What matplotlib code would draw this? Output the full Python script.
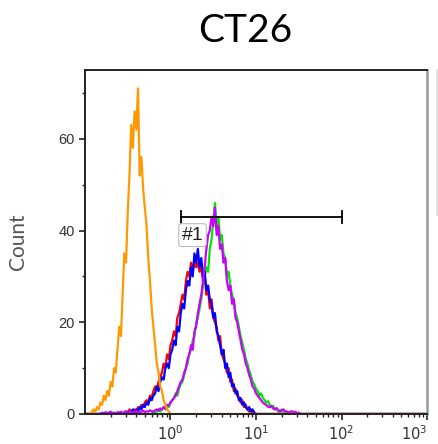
import numpy as np
import matplotlib
matplotlib.use("Agg")
import matplotlib.pyplot as plt
from matplotlib.lines import Line2D
from matplotlib import ticker

plt.rcParams["mathtext.fontset"] = "custom"
plt.rcParams["mathtext.rm"] = "Liberation Sans"
plt.rcParams["mathtext.it"] = "Liberation Sans"
plt.rcParams["mathtext.bf"] = "Liberation Sans"

# ---- data ----
# common channel grid: log10 positions from -1 to 3, step 0.02
log_step = 0.02
log_start = -1.0
n_bins = 201

# each series: (first log10 position, counts at consecutive grid points)
orange_start = -0.92
orange_counts = [0.5, 1, 0.5, 1.5, 1, 2.5, 2, 4, 3, 5, 4, 7, 6, 10, 9, 14, 19,
                 17, 26, 35, 33, 44, 52, 63, 58, 66, 62, 71, 52, 56, 49, 45, 41,
                 34, 29, 23, 19, 15, 11, 9, 6, 5, 3, 2, 1, 0.5, 0]

red_start = -0.52
red_counts = [0.5, 0, 1, 0.5, 0.5, 1, 0.5, 1.5, 1, 2, 1.5, 2.5, 3, 2.5, 4, 3.5,
              5, 6, 5.5, 7, 8, 9, 11, 10, 13, 12, 15, 16, 18, 17, 21, 22, 24,
              26, 25, 29, 31, 30, 33, 31, 34, 32, 33, 31, 32, 29, 30, 26, 27,
              23, 25, 21, 20, 19, 16, 17, 13, 12, 11, 9, 10, 7, 7.5, 5, 5.5, 4,
              3.5, 2.5, 3, 1.5, 2, 1, 0.5, 1, 0.3, 0]

blue_start = -0.52
blue_counts = [0, 0.5, 0, 0.5, 1, 0, 1, 0.5, 1.5, 1, 2, 1.5, 2.5, 2, 3.5, 3, 4,
               4.5, 6, 5, 7, 8, 7.5, 10, 11, 10, 13, 14, 16, 15, 19, 18, 22,
               24, 23, 27, 29, 28, 32, 30, 35, 33, 36, 32, 34, 30, 31, 27, 28,
               25, 24, 21, 22, 18, 17, 15, 13, 14, 10, 11, 8, 9, 6, 6.5, 4.5,
               5, 3, 3.5, 2, 2.5, 1.5, 1, 1.5, 0.5, 1, 0.3, 0]

green_start = -0.20
green_counts = [0.5, 0, 0.5, 1, 0.5, 1, 1.5, 1, 2, 1.5, 2.5, 3, 3.5, 4.5, 4,
                5.5, 6.5, 7, 8.5, 10, 11, 13, 14, 16, 17, 20, 21, 23, 25, 28,
                30, 32, 31, 36, 38, 42, 46, 40, 43, 38, 39, 35, 34, 30, 31, 28,
                26, 25, 22, 21, 19, 17, 15.5, 14, 12, 11, 9.5, 8.5, 7, 6.5,
                5.5, 5, 4, 4.5, 3.5, 3, 2.5, 2.8, 2, 1.5, 1.8, 1, 1.2, 0.5,
                0.8, 0.5, 0.8, 0.3, 0.5, 0.2, 0]

magenta_start = -0.80
magenta_counts = [0.3, 0.1, 0.4, 0.2, 0.3, 0.5, 0.2, 0.3, 0.1, 0.4, 0.3, 0.5,
                  0.2, 0.4, 0.6, 0.3, 0.5, 0.4, 0.2, 0.5, 0.6, 0.4, 0.3, 0.5,
                  0.7, 0.4, 0.6, 0.5, 0.8, 0.6,
                  0.5, 0.8, 1, 0.7, 1.2, 1, 1.5, 1.2, 2, 1.8, 2.5, 3, 3.5, 4,
                  5, 6, 7, 7.5, 9, 10, 12, 13, 15, 14, 18, 19, 22, 24, 26, 29,
                  32, 36, 39, 40, 43, 41, 45, 39, 41, 36, 37, 33, 34, 29, 27,
                  28, 24, 25, 21, 20, 18, 16, 14, 13, 11, 10, 8.5, 7.5, 6, 5.5,
                  4.5, 4, 3.5, 3, 2.5, 2.2, 2, 1.6, 1.5, 1.8, 1.2, 1, 1.3, 0.8,
                  0.5, 0.9, 1, 0.6, 0.5, 0.3, 0.5, 0.6, 0.3, 0.5, 0.2, 0.3, 0]

gate_lo, gate_hi, gate_y = 1.32, 102, 43
gate_label = "#1"
gate_label_x, gate_label_y = 1.81, 39.0
title = "CT26"
ylabel = "Count"
yticks_major = [0, 20, 40, 60]
yticks_minor = [10, 30, 50, 70]
xticks_major = [1, 10, 100, 1000]
xtick_labels = [r"$\mathregular{10^0}$", r"$\mathregular{10^1}$",
                r"$\mathregular{10^2}$", r"$\mathregular{10^3}$"]

# ---- build full arrays ----
log_grid = log_start + log_step * np.arange(n_bins)
channels = 10 ** log_grid

def full(start, counts):
    arr = np.zeros(n_bins)
    i0 = int(round((start - log_start) / log_step))
    arr[i0:i0 + len(counts)] = counts
    return arr

# ---- plot ----
fig = plt.figure(figsize=(4.39, 4.44), dpi=100)
ax = fig.add_axes([0.1936, 0.0676, 0.7791, 0.7747])

lw = 1.6
ax.plot(channels, full(red_start, red_counts), color="#ff0000", lw=lw)
ax.plot(channels, full(green_start, green_counts), color="#00e600", lw=lw)
ax.plot(channels, full(blue_start, blue_counts), color="#0000ff", lw=lw)
ax.plot(channels, full(magenta_start, magenta_counts), color="#cc00ff", lw=lw)
ax.plot(channels, full(orange_start, orange_counts), color="#ff9900", lw=lw)

ax.set_xscale("log")
ax.set_xlim(0.1, 1000)
ax.set_ylim(0, 75)

# gate
ax.plot([gate_lo, gate_hi], [gate_y, gate_y], color="black", lw=1.3)
for gx in (gate_lo, gate_hi):
    ax.plot([gx, gx], [gate_y - 1.3, gate_y + 1.3], color="black", lw=1.3)
ax.text(gate_label_x, gate_label_y, gate_label, ha="center", va="center",
        fontsize=14, family="Liberation Sans", color="#222222",
        bbox=dict(boxstyle="round,pad=0.15", fc="white", ec="#bbbbbb", lw=0.8))

ax.set_xticks(xticks_major)
ax.set_xticklabels(xtick_labels)
ax.xaxis.set_minor_locator(ticker.LogLocator(base=10, subs=np.arange(2, 10)))
ax.xaxis.set_minor_formatter(ticker.NullFormatter())
ax.set_yticks(yticks_major)
ax.set_yticks(yticks_minor, minor=True)

ax.tick_params(which="major", direction="out", length=4, width=1.2,
               colors="#222222", labelsize=10.5, labelcolor="#333333")
ax.tick_params(which="minor", direction="out", length=2.5, width=1.0,
               colors="#222222")
for lab in ax.get_yticklabels():
    lab.set_family("Liberation Sans")
xl = ax.get_xticklabels()
xl[-1].set_horizontalalignment("right")
xl[-1].set_x(1000)

for s in ("left", "top", "bottom"):
    ax.spines[s].set_color("#222222")
    ax.spines[s].set_linewidth(1.4)
ax.spines["right"].set_color("#999999")
ax.spines["right"].set_linewidth(1.8)

ax.set_ylabel(ylabel, fontsize=15, family="Lato", color="#555555")
ax.yaxis.set_label_coords(-0.167, 0.50)
fig.text(0.558, 0.93, title, ha="center", va="center", fontsize=28,
         family="Lato", color="black")

fig.add_artist(Line2D([437 / 439, 437 / 439], [1 - 70 / 444, 1 - 215 / 444],
                      transform=fig.transFigure, color="#dddddd", lw=1.2))

fig.savefig("out.png", dpi=100)
